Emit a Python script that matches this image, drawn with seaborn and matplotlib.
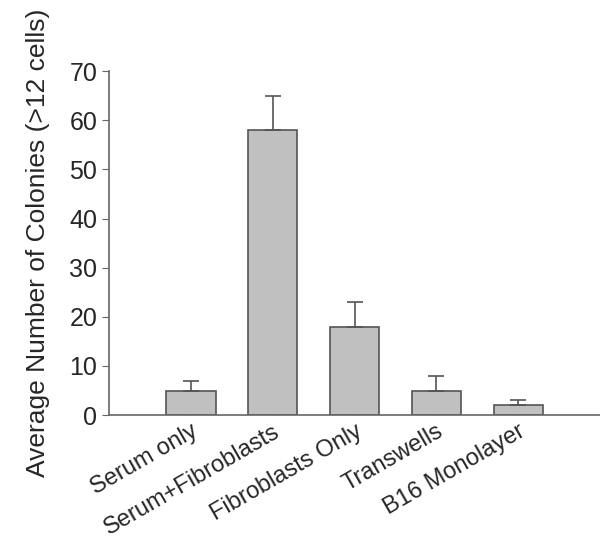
import numpy as np
import pandas as pd
import matplotlib
matplotlib.use("Agg")
import matplotlib.pyplot as plt
import seaborn as sns

groups = ["Serum only", "Serum+Fibroblasts", "Fibroblasts Only", "Transwells", "B16 Monolayer"]
colonies = [5, 58, 18, 5, 2]
sem = [2, 7, 5, 3, 1]

df = pd.DataFrame({"group": groups, "colonies": colonies, "sem": sem})

sns.set_style("ticks")
plt.rcParams["font.family"] = ["Liberation Sans", "DejaVu Sans"]

fig = plt.figure(figsize=(6, 5.44), dpi=100)
ax = fig.add_axes([0.182, 0.237, 0.818, 0.632])

sns.barplot(
    data=df,
    x="group",
    y="colonies",
    color="#c0c0c0",
    edgecolor="#555555",
    linewidth=1.2,
    width=0.6,
    errorbar=None,
    saturation=1,
    ax=ax
)

# upper-only error bars
ax.errorbar(
    np.arange(len(df)),
    df["colonies"],
    yerr=[np.zeros(len(df)), df["sem"]],
    fmt="none",
    ecolor="#555555",
    elinewidth=1.2,
    capsize=6,
    capthick=1.2
)

ax.set_xlim(-1, 5)
ax.set_ylim(0, 70)
ax.set_yticks(range(0, 71, 10))
ax.set_xlabel("")
ax.set_ylabel("Average Number of Colonies (>12 cells)", fontsize=19, labelpad=14)

ax.tick_params(axis="y", labelsize=18, length=5, color="#666666", direction="out")
ax.tick_params(axis="x", labelsize=17, length=3, color="#666666", direction="in", pad=4)
plt.setp(ax.get_xticklabels(), rotation=30, ha="right", rotation_mode="anchor")

sns.despine(ax=ax)
for side in ["left", "bottom"]:
    ax.spines[side].set_color("#666666")
    ax.spines[side].set_linewidth(1.2)

fig.savefig("out.png", dpi=100)
